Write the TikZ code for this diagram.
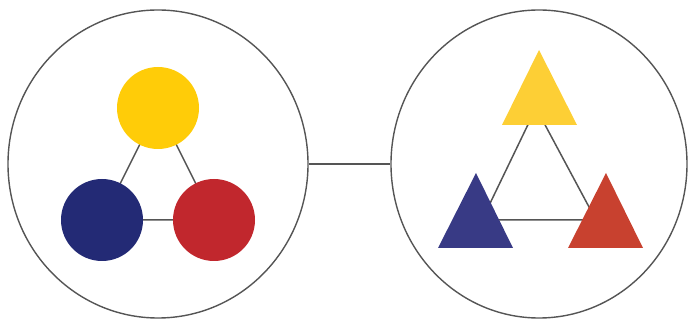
\documentclass[tikz,border=0pt]{standalone}
\usetikzlibrary{shapes.geometric}
\definecolor{ringgray}{HTML}{555555}
\definecolor{cyel}{HTML}{FFCC08}
\definecolor{cblu}{HTML}{232A75}
\definecolor{cred}{HTML}{C1272D}
\definecolor{tyel}{HTML}{FDCF35}
\definecolor{tblu}{HTML}{383A85}
\definecolor{tred}{HTML}{C8412F}
\tikzset{
  ring/.style={draw=ringgray, line width=1.4pt, ellipse, inner sep=0pt, minimum width=300pt, minimum height=308pt},
  link/.style={draw=ringgray, line width=1.5pt},
  disc/.style={circle, inner sep=0pt, minimum size=82pt},
}
\begin{document}
\begin{tikzpicture}[x=1pt, y=-1pt]
\useasboundingbox (0,0) rectangle (689,320);
% big rings
\node[ring] (L) at (158,164) {};
\node[ring, minimum width=296pt] (R) at (539,164) {};
\draw[link] (L.east) -- (R.west);
% left: circles
\coordinate (cy) at (158,108);
\coordinate (cb) at (102,220);
\coordinate (cr) at (214,220);
\draw[link] (cy) -- (cb) -- (cr) -- cycle;
\node[disc, fill=cyel] (Y) at (cy) {};
\node[disc, fill=cblu] (B) at (cb) {};
\node[disc, fill=cred] (Rd) at (cr) {};
% right: triangles
\coordinate (ty) at (536,108);
\coordinate (tb) at (482,220);
\coordinate (tr) at (596,220);
\draw[link] (ty) -- (tb) -- (tr) -- cycle;
\fill[tyel] (539,50) -- (577,125) -- (502,125) -- cycle;
\fill[tblu] (476,173) -- (513,248) -- (438,248) -- cycle;
\fill[tred] (606,173) -- (643,248) -- (568,248) -- cycle;
\end{tikzpicture}
\end{document}
